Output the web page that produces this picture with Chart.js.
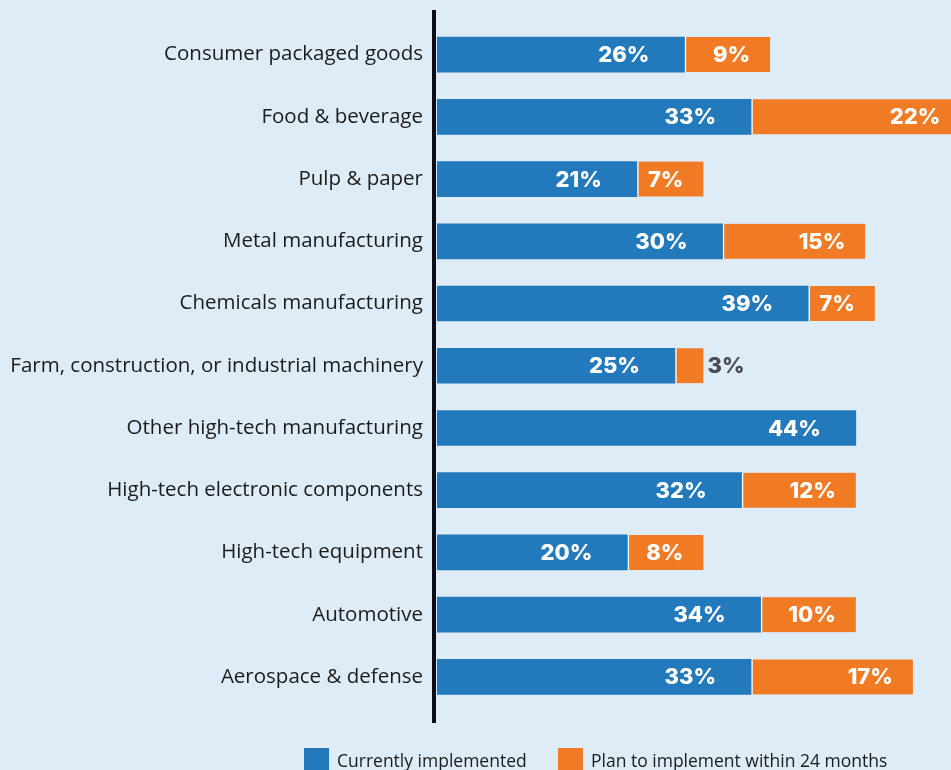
<!DOCTYPE html>
<html>
<head>
<meta charset="utf-8">
<script src="https://cdn.jsdelivr.net/npm/chart.js@4.4.1/dist/chart.umd.min.js"></script>
<style>
  html, body { margin: 0; padding: 0; background: #ddecf7; overflow: hidden; }
  #wrap { position: relative; width: 951px; height: 770px; }
  #legend { position: absolute; top: 748px; left: 0; width: 951px; height: 30px; font-family: "Open Sans", sans-serif; font-size: 17.5px; color: #1b1b1b; }
  .lg-item { position: absolute; top: 0; display: flex; align-items: flex-start; }
  .lg-box { width: 25px; height: 22px; margin-right: 8px; }
  .lg-text { line-height: 22px; padding-top: 1px; }
</style>
</head>
<body>
<div id="wrap">
  <canvas id="chart" width="951" height="770"></canvas>
  <div id="legend"></div>
</div>
<script>
// ===== DATA =====
const categories = [
  'Consumer packaged goods',
  'Food & beverage',
  'Pulp & paper',
  'Metal manufacturing',
  'Chemicals manufacturing',
  'Farm, construction, or industrial machinery',
  'Other high-tech manufacturing',
  'High-tech electronic components',
  'High-tech equipment',
  'Automotive',
  'Aerospace & defense'
];
const currentVals = [26, 33, 21, 30, 39, 25, 44, 32, 20, 34, 33];
const planVals = [9, 22, 7, 15, 7, 3, null, 12, 8, 10, 17];
const seriesNames = ['Currently implemented', 'Plan to implement within 24 months'];
const seriesColors = ['#2279bb', '#f17b24'];

// ===== PLUGINS =====
// value labels inside the bars (small ones go outside)
const barLabels = {
  id: 'barLabels',
  afterDatasetsDraw(chart) {
    const ctx = chart.ctx;
    ctx.save();
    ctx.font = '800 22px Inter, sans-serif';
    ctx.textBaseline = 'middle';
    chart.data.datasets.forEach((ds, di) => {
      chart.getDatasetMeta(di).data.forEach((bar, i) => {
        const v = ds.data[i];
        if (v == null) return;
        const txt = v + '%';
        if (bar.x - bar.base < 40) {
          ctx.fillStyle = '#4b4b55';
          ctx.textAlign = 'left';
          ctx.fillText(txt, bar.x + 4, bar.y + 1);
        } else {
          ctx.fillStyle = '#ffffff';
          ctx.textAlign = 'right';
          ctx.fillText(txt, bar.x - (di === 0 ? 35 : 20), bar.y + 1);
        }
      });
    });
    ctx.restore();
  }
};

// the dark vertical axis line, a bit longer than the category band
const axisLine = {
  id: 'axisLine',
  afterDraw(chart) {
    const ctx = chart.ctx;
    const a = chart.chartArea;
    ctx.save();
    ctx.fillStyle = '#0b0e18';
    ctx.fillRect(a.left - 5, 10, 4, 713);
    ctx.restore();
  }
};

// ===== CHART =====
new Chart(document.getElementById('chart'), {
  type: 'bar',
  data: {
    labels: categories,
    datasets: [
      {
        label: seriesNames[0],
        data: currentVals,
        backgroundColor: seriesColors[0],
        borderWidth: 0,
        barThickness: 35
      },
      {
        label: seriesNames[1],
        data: planVals,
        backgroundColor: seriesColors[1],
        borderColor: '#ffffff',
        borderWidth: { left: 2, top: 0, right: 0, bottom: 0 },
        borderSkipped: false,
        barThickness: 35
      }
    ]
  },
  options: {
    indexAxis: 'y',
    responsive: false,
    animation: false,
    layout: { padding: { top: 23.5, bottom: 62, left: 0, right: 0 } },
    plugins: {
      legend: { display: false },
      tooltip: { enabled: false }
    },
    scales: {
      x: {
        stacked: true,
        display: false,
        min: 0,
        max: 54
      },
      y: {
        stacked: true,
        grid: { display: false },
        border: { display: false },
        ticks: {
          padding: 6,
          color: '#1b1b1b',
          font: { family: '"Open Sans", sans-serif', size: 20.5 }
        },
        afterFit: s => { s.width = 437; }
      }
    }
  },
  plugins: [barLabels, axisLine]
});

// ===== LEGEND =====
const legendX = [304, 558];
document.getElementById('legend').innerHTML = seriesNames.map((n, i) => `
  <div class="lg-item" style="left:${legendX[i]}px">
    <div class="lg-box" style="background:${seriesColors[i]}"></div>
    <div class="lg-text">${n}</div>
  </div>
`).join('');
</script>
</body>
</html>
